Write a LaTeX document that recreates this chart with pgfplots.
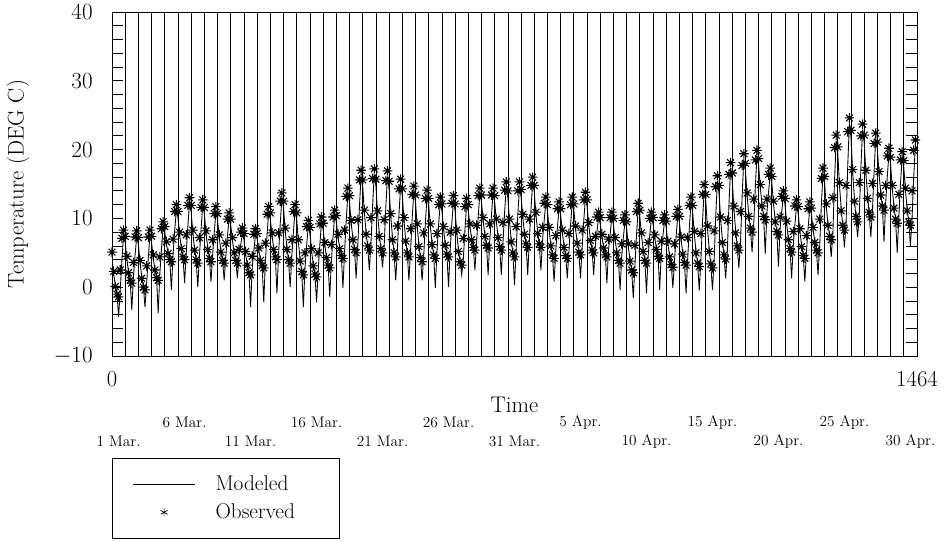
\documentclass[border=0pt]{standalone}
\usepackage{fontspec}
\usepackage{pgfplots}
\pgfplotsset{compat=1.18}
\newcommand{\fbig}{\fontsize{17}{19}\selectfont}
\newcommand{\fleg}{\fontsize{16}{18}\selectfont}
\newcommand{\ftick}{\fontsize{17}{19}\selectfont}
\newcommand{\fdate}{\fontsize{11.5}{13}\selectfont}
\pgfdeclareplotmark{ast8}{%
  \pgfpathmoveto{\pgfqpoint{-\pgfplotmarksize}{0pt}}\pgfpathlineto{\pgfqpoint{\pgfplotmarksize}{0pt}}%
  \pgfpathmoveto{\pgfqpoint{0pt}{-\pgfplotmarksize}}\pgfpathlineto{\pgfqpoint{0pt}{\pgfplotmarksize}}%
  \pgfpathmoveto{\pgfqpoint{-0.707\pgfplotmarksize}{-0.707\pgfplotmarksize}}\pgfpathlineto{\pgfqpoint{0.707\pgfplotmarksize}{0.707\pgfplotmarksize}}%
  \pgfpathmoveto{\pgfqpoint{-0.707\pgfplotmarksize}{0.707\pgfplotmarksize}}\pgfpathlineto{\pgfqpoint{0.707\pgfplotmarksize}{-0.707\pgfplotmarksize}}%
  \pgfusepathqstroke}
\begin{document}
\begin{tikzpicture}
\begin{axis}[
  name=ax,
  scale only axis,
  width=603.75pt, height=258pt,
  xmin=0, xmax=1464, ymin=-10, ymax=40,
  axis line style={black, line width=0.7pt},
  xtick={0,1464},
  xticklabels={0,1464},
  minor xtick={24,48,...,1440},
  xminorgrids=true,
  minor x grid style={black, line width=0.6pt},
  x tick style={draw=none},
  ytick={-10,0,...,40},
  minor y tick num=4,
  tick align=inside,
  ytick pos=both,
  major tick length=8pt, minor tick length=8pt,
  y tick style={black, line width=0.6pt},
  tick label style={font=\ftick},
  yticklabel style={xshift=-11pt},
  xticklabel style={yshift=-8pt},
  legend style={at={(0,0)}, anchor=north west, yshift=-76.5pt, draw=black, line width=0.6pt,
    inner xsep=15pt, inner ysep=11pt, row sep=4.5pt, font=\fleg,
    /tikz/every odd column/.append style={column sep=12.75pt}},
  legend cell align=left,
]
\addplot[black, line width=0.65pt,
  legend image code/.code={\draw[black, line width=0.6pt] (0pt,0pt) -- (47pt,0pt);}]
  table[row sep=\\, header=false, x expr=\coordindex*3, y index=0] {
4.2\\1.9\\0.3\\-0.9\\-4.3\\-0.4\\3.9\\7.5\\
6.5\\4.1\\2.3\\1.1\\-3.3\\1.6\\4.7\\7.4\\
6.2\\3.5\\1.6\\0.1\\-2.9\\0.6\\4.3\\7.5\\
6.5\\4.3\\2.6\\1.5\\-3.8\\2.0\\5.6\\8.7\\
8.0\\6.2\\5.0\\4.2\\-0.4\\4.7\\8.2\\11.2\\
10.1\\7.6\\5.8\\4.5\\0.6\\5.0\\8.9\\12.2\\
10.9\\7.9\\5.7\\4.0\\0.0\\4.5\\8.5\\11.9\\
10.7\\7.8\\5.8\\4.2\\0.8\\4.7\\8.0\\10.9\\
9.8\\7.2\\5.4\\4.0\\1.0\\4.5\\7.4\\10.0\\
9.0\\6.8\\5.1\\4.0\\1.3\\4.5\\6.1\\7.8\\
6.9\\4.8\\3.3\\2.3\\-2.9\\2.8\\5.3\\7.7\\
7.0\\5.3\\4.0\\3.3\\-2.2\\3.8\\7.7\\10.9\\
9.9\\7.5\\5.7\\4.5\\-0.9\\5.0\\9.3\\12.9\\
11.5\\8.2\\5.9\\4.0\\0.0\\4.5\\8.1\\11.2\\
9.8\\6.5\\4.2\\2.3\\-2.9\\2.8\\6.1\\8.9\\
7.8\\5.2\\3.4\\2.0\\-2.2\\2.5\\6.2\\9.4\\
8.4\\6.1\\4.5\\3.3\\-1.4\\3.8\\7.4\\10.4\\
9.5\\7.3\\5.8\\4.7\\-0.1\\5.2\\9.8\\13.6\\
12.3\\9.3\\7.2\\5.5\\1.3\\6.0\\11.7\\16.2\\
14.6\\10.8\\8.1\\5.9\\2.5\\6.4\\12.0\\16.4\\
14.7\\10.7\\7.9\\5.5\\2.9\\6.0\\11.7\\16.1\\
14.3\\10.3\\7.3\\4.9\\1.0\\5.4\\10.7\\14.9\\
13.3\\9.7\\7.0\\4.9\\1.0\\5.4\\10.1\\13.9\\
12.4\\8.8\\6.3\\4.2\\1.0\\4.7\\9.5\\13.3\\
11.9\\8.8\\6.5\\4.7\\-0.1\\5.2\\9.1\\12.3\\
11.1\\8.4\\6.4\\4.9\\0.0\\5.4\\9.3\\12.5\\
11.1\\7.9\\5.5\\3.7\\1.8\\4.2\\8.5\\12.1\\
11.1\\8.8\\7.1\\5.9\\2.5\\6.4\\10.3\\13.6\\
12.4\\9.7\\7.7\\6.2\\1.8\\6.7\\10.4\\13.6\\
12.4\\9.5\\7.5\\5.9\\1.8\\6.4\\10.9\\14.5\\
13.0\\9.5\\6.9\\4.9\\0.3\\5.4\\10.5\\14.5\\
13.2\\10.2\\8.0\\6.3\\1.8\\6.8\\11.4\\15.2\\
13.8\\10.5\\8.2\\6.3\\2.5\\6.8\\9.7\\12.3\\
11.1\\8.3\\6.2\\4.7\\0.8\\5.2\\8.6\\11.6\\
10.5\\7.9\\6.1\\4.7\\1.3\\5.2\\9.1\\12.3\\
11.2\\8.5\\6.6\\5.2\\1.3\\5.7\\9.7\\13.0\\
11.8\\9.0\\7.0\\5.5\\1.8\\6.0\\8.1\\10.1\\
9.2\\7.3\\5.8\\4.9\\0.6\\5.4\\7.8\\10.1\\
9.1\\6.8\\5.2\\4.0\\-0.4\\4.5\\7.2\\9.7\\
8.6\\5.9\\4.0\\2.6\\-1.6\\3.1\\7.7\\11.4\\
10.2\\7.5\\5.5\\4.0\\-0.9\\4.5\\7.5\\10.1\\
9.2\\7.2\\5.7\\4.7\\-0.4\\5.2\\7.5\\9.7\\
8.7\\6.3\\4.6\\3.4\\-0.1\\3.9\\7.5\\10.5\\
9.4\\6.9\\5.0\\3.7\\-0.9\\4.2\\8.7\\12.3\\
10.9\\7.7\\5.3\\3.5\\-0.5\\4.0\\9.7\\14.1\\
12.4\\8.5\\5.6\\3.3\\-0.4\\3.8\\10.4\\15.4\\
13.7\\9.8\\6.9\\4.6\\1.3\\5.1\\12.0\\17.3\\
15.5\\11.4\\8.4\\5.9\\2.8\\6.4\\13.3\\18.6\\
17.0\\13.3\\10.7\\8.5\\5.1\\9.0\\14.7\\19.1\\
17.7\\14.5\\12.1\\10.3\\4.8\\10.8\\13.8\\16.5\\
15.2\\12.1\\9.8\\8.1\\3.0\\8.6\\11.0\\13.2\\
12.0\\9.2\\7.1\\5.6\\1.3\\6.1\\9.2\\11.9\\
10.7\\8.1\\6.1\\4.7\\0.8\\5.2\\8.6\\11.6\\
10.6\\8.3\\6.7\\5.5\\1.8\\6.0\\11.9\\16.5\\
15.1\\11.7\\9.3\\7.4\\4.4\\7.9\\15.5\\21.3\\
19.4\\14.8\\11.6\\8.8\\5.8\\9.3\\17.6\\23.8\\
21.7\\16.7\\13.1\\10.0\\7.3\\10.5\\17.5\\22.9\\
21.0\\16.6\\13.4\\10.7\\7.3\\11.2\\17.0\\21.6\\
20.0\\16.4\\13.8\\11.7\\6.6\\12.2\\16.1\\19.4\\
17.9\\14.4\\11.8\\9.8\\5.0\\10.3\\15.1\\18.9\\
17.4\\14.0\\11.5\\9.5\\6.0\\10.0\\16.0\\20.6\\
19.9\\
};
\addlegendentry{\makebox[76pt][l]{Modeled}}
\addplot[black, only marks, mark=ast8, mark size=3.6pt, mark options={line width=0.8pt},
  legend image code/.code={\draw[black] plot[mark=asterisk, mark size=3pt, mark options={line width=0.5pt}] coordinates {(23.5pt,0pt)};}]
  table[row sep=\\, header=false, x expr=\coordindex*3, y index=0] {
5.1\\2.3\\0.1\\-1.0\\-1.4\\2.5\\7.1\\8.3\\
7.4\\4.5\\2.1\\1.0\\0.6\\3.6\\7.3\\8.2\\
7.2\\3.9\\1.3\\0.0\\-0.4\\3.1\\7.3\\8.3\\
7.4\\4.7\\2.5\\1.4\\1.0\\4.4\\8.5\\9.5\\
8.8\\6.6\\4.9\\4.0\\3.7\\7.0\\11.0\\12.0\\
11.0\\8.0\\5.6\\4.4\\4.0\\7.6\\11.9\\13.0\\
11.9\\8.3\\5.4\\4.0\\3.5\\7.2\\11.6\\12.7\\
11.6\\8.2\\5.5\\4.2\\3.7\\6.9\\10.7\\11.7\\
10.7\\7.6\\5.1\\3.9\\3.5\\6.4\\9.9\\10.8\\
9.9\\7.2\\5.0\\3.9\\3.5\\5.5\\8.0\\8.6\\
7.8\\5.2\\3.2\\2.1\\1.8\\4.5\\7.7\\8.5\\
7.8\\5.7\\3.9\\3.1\\2.8\\6.4\\10.6\\11.7\\
10.8\\7.9\\5.5\\4.4\\4.0\\7.9\\12.5\\13.7\\
12.5\\8.6\\5.5\\4.0\\3.5\\6.9\\11.0\\12.0\\
10.8\\6.9\\3.8\\2.3\\1.8\\5.0\\8.8\\9.7\\
8.7\\5.6\\3.1\\1.9\\1.5\\5.0\\9.2\\10.2\\
9.3\\6.5\\4.3\\3.2\\2.8\\6.2\\10.2\\11.2\\
10.4\\7.7\\5.6\\4.6\\4.2\\8.3\\13.2\\14.4\\
13.3\\9.7\\6.9\\5.5\\5.0\\9.8\\15.6\\17.0\\
15.6\\11.2\\7.7\\6.0\\5.4\\10.1\\15.8\\17.2\\
15.7\\11.1\\7.4\\5.6\\5.0\\9.8\\15.5\\16.9\\
15.4\\10.7\\6.9\\5.0\\4.4\\8.9\\14.3\\15.7\\
14.3\\10.1\\6.7\\5.0\\4.4\\8.5\\13.5\\14.7\\
13.4\\9.2\\5.9\\4.3\\3.7\\7.9\\12.9\\14.1\\
12.9\\9.2\\6.2\\4.7\\4.2\\7.8\\12.0\\13.1\\
12.1\\8.8\\6.1\\4.8\\4.4\\8.0\\12.2\\13.3\\
12.1\\8.3\\5.2\\3.7\\3.2\\7.1\\11.7\\12.9\\
12.0\\9.2\\6.9\\5.8\\5.4\\9.0\\13.3\\14.4\\
13.4\\10.1\\7.4\\6.1\\5.7\\9.2\\13.4\\14.4\\
13.3\\9.9\\7.2\\5.9\\5.4\\9.4\\14.1\\15.3\\
14.0\\9.9\\6.6\\5.0\\4.4\\8.8\\14.0\\15.3\\
14.2\\10.6\\7.7\\6.3\\5.8\\9.9\\14.8\\16.0\\
14.8\\10.9\\7.8\\6.3\\5.8\\8.7\\12.2\\13.1\\
12.0\\8.7\\6.0\\4.7\\4.2\\7.5\\11.4\\12.4\\
11.4\\8.3\\5.8\\4.6\\4.2\\7.8\\12.0\\13.1\\
12.1\\8.9\\6.4\\5.1\\4.7\\8.3\\12.7\\13.8\\
12.7\\9.4\\6.8\\5.4\\5.0\\7.4\\10.2\\10.9\\
10.1\\7.7\\5.7\\4.7\\4.4\\7.0\\10.1\\10.9\\
10.0\\7.2\\5.0\\3.9\\3.5\\6.3\\9.7\\10.5\\
9.5\\6.3\\3.8\\2.5\\2.1\\6.1\\11.0\\12.2\\
11.2\\7.9\\5.2\\3.9\\3.5\\6.5\\10.0\\10.9\\
10.1\\7.6\\5.5\\4.5\\4.2\\6.7\\9.7\\10.5\\
9.6\\6.7\\4.4\\3.3\\2.9\\6.3\\10.3\\11.3\\
10.3\\7.3\\4.8\\3.6\\3.2\\7.2\\11.9\\13.1\\
11.9\\8.1\\5.0\\3.5\\3.0\\7.8\\13.5\\14.9\\
13.5\\8.9\\5.2\\3.4\\2.8\\8.2\\14.6\\16.2\\
14.8\\10.2\\6.5\\4.7\\4.1\\9.7\\16.4\\18.1\\
16.6\\11.8\\7.9\\6.0\\5.4\\11.0\\17.7\\19.4\\
18.0\\13.7\\10.3\\8.6\\8.0\\12.8\\18.5\\19.9\\
18.7\\14.9\\11.8\\10.3\\9.8\\12.8\\16.4\\17.3\\
16.1\\12.5\\9.5\\8.1\\7.6\\10.2\\13.2\\14.0\\
12.9\\9.6\\6.9\\5.6\\5.1\\8.1\\11.8\\12.7\\
11.7\\8.5\\5.9\\4.6\\4.2\\7.5\\11.4\\12.4\\
11.5\\8.7\\6.5\\5.4\\5.0\\9.9\\15.8\\17.3\\
16.1\\12.1\\9.0\\7.4\\6.9\\13.0\\20.3\\22.1\\
20.4\\15.2\\11.1\\9.0\\8.3\\14.8\\22.6\\24.6\\
22.8\\17.1\\12.5\\10.3\\9.5\\15.2\\22.0\\23.7\\
22.1\\17.0\\12.9\\10.9\\10.2\\15.1\\20.9\\22.4\\
21.1\\16.8\\13.4\\11.8\\11.2\\14.8\\19.1\\20.2\\
18.9\\14.8\\11.5\\9.9\\9.3\\13.5\\18.5\\19.7\\
18.4\\14.4\\11.1\\9.5\\9.0\\14.0\\19.9\\21.4\\
20.6\\
};
\addlegendentry{\makebox[76pt][l]{Observed}}
\end{axis}
\node[rotate=90, font=\fbig] at ([xshift=-70.5pt]ax.west) {Temperature (DEG C)};
\node[font=\fbig] at ([yshift=-36.75pt]ax.south) {Time};
\foreach \xx/\lab in {54.44/6 Mar., 153.41/16 Mar., 252.39/26 Mar., 351.37/5 Apr., 450.34/15 Apr., 549.32/25 Apr.}
  \node[font=\fdate] at ([xshift=\xx pt, yshift=-50pt]ax.south west) {\lab};
\foreach \xx/\lab in {4.95/1 Mar., 103.93/11 Mar., 202.90/21 Mar., 301.88/31 Mar., 400.85/10 Apr., 499.83/20 Apr., 598.81/30 Apr.}
  \node[font=\fdate] at ([xshift=\xx pt, yshift=-64pt]ax.south west) {\lab};
\pgfresetboundingbox
\path[use as bounding box] ([xshift=-84pt,yshift=-139.5pt]ax.south west) rectangle ([xshift=624.75pt,yshift=267pt]ax.south west);
\end{tikzpicture}
\end{document}
